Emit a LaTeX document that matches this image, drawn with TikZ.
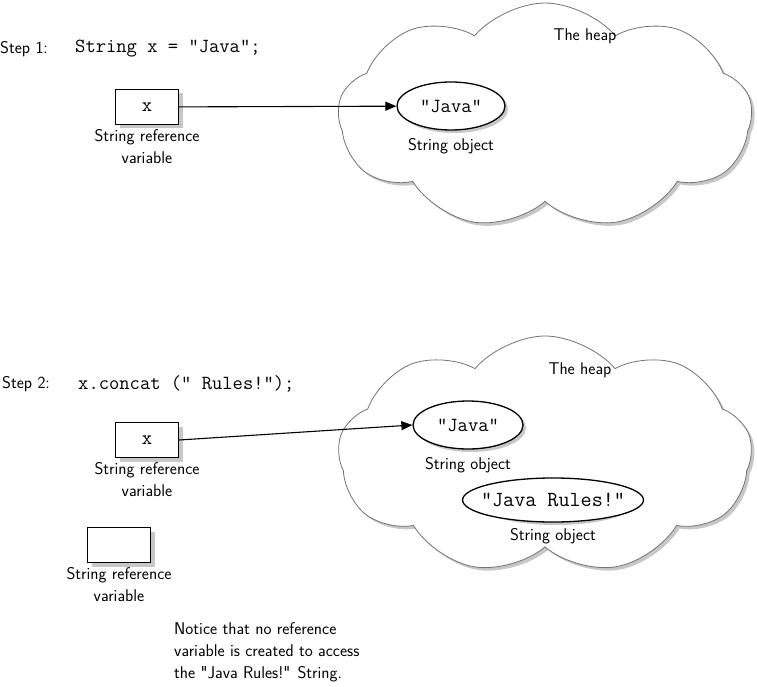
\documentclass[tikz,border=0pt]{standalone}
\usetikzlibrary{arrows.meta, positioning, shapes.geometric, shapes.symbols}

\begin{document}
\begin{tikzpicture}[x=1pt, y=-1pt,
	node distance=4pt and 10pt,
	txt/.style = {font=\fontsize{17}{22}\selectfont\sffamily, align=center, inner sep=0pt},
	stmt/.style = {font=\fontsize{20}{22}\selectfont\ttfamily, inner sep=0pt},
	shadowfill/.style = {draw=none, fill=black!22},
	refbox/.style = {draw, line width=1.2pt, fill=white, minimum width=63pt, minimum height=35pt,
		inner sep=0pt, font=\fontsize{20}{22}\selectfont\ttfamily},
	obj/.style = {ellipse, draw, line width=1.3pt, fill=white, inner sep=0pt, 
		font=\fontsize{20}{22}\selectfont\ttfamily},
	heap/.style = {cloud, cloud puffs=9, cloud puff arc=100, draw=black!55, line width=0.8pt, fill=white,
		minimum width=414pt, minimum height=226pt},
	ref/.style = {-{Triangle[length=11pt, width=9pt]}, line width=1.1pt}
	]
	\useasboundingbox (0,0) rectangle (757,687);
%
% the two heaps
	\node[heap, shadowfill] (heap1s) at (548,119) {};
	\node[heap] (heap1) at (545,116) {};
	\node[heap, minimum height=238pt, shadowfill] (heap2s) at (548,458) {};
	\node[heap, minimum height=238pt] (heap2) at (545,455) {};
%
% Step 1
	\node[txt] (heapT1) at (585,36) {The heap};
	\node[txt, anchor=west] (step1) at (0,49) {Step 1:};
	\node[stmt, anchor=west] (code1) at (75,49) {String x = "Java";};
	\node[refbox, shadowfill] (x1s) at (151,111) {};
	\node[refbox] (x1) at (147,107) {x};
	\node[txt, below=of x1] (x1L) {String reference\\variable};
	\node[obj, minimum width=108pt, minimum height=48pt, shadowfill] (java1s) at (454,109) {};
	\node[obj, minimum width=108pt, minimum height=48pt] (java1) at (451,106) {"Java"};
	\node[txt, below=8pt of java1] (java1L) {String object};
	\draw[ref] (x1) -- (java1);
%
% Step 2
	\node[txt] (heapT2) at (580,370) {The heap};
	\node[txt, anchor=west] (step2) at (2,384) {Step 2:};
	\node[stmt, anchor=west] (code2) at (78,384) {x.concat (" Rules!");};
	\node[refbox, shadowfill] (x2s) at (151,444) {};
	\node[refbox] (x2) at (147,440) {x};
	\node[txt, below=of x2] (x2L) {String reference\\variable};
	\node[refbox, shadowfill] (y2s) at (123,549) {};
	\node[refbox] (y2) at (119,545) {};
	\node[txt, below=of y2] (y2L) {String reference\\variable};
	\node[obj, minimum width=110pt, minimum height=48pt, shadowfill] (java2s) at (471,428) {};
	\node[obj, minimum width=110pt, minimum height=48pt] (java2) at (468,425) {"Java"};
	\node[txt, below=8pt of java2] (java2L) {String object};
	\node[obj, minimum width=157pt, minimum height=44pt, shadowfill] (ruless) at (556,503) {};
	\node[obj, minimum width=157pt, minimum height=44pt, inner xsep=-8pt,
		font=\fontsize{21.5}{22}\selectfont\ttfamily] (rules) at (553,500) {"Java Rules!"};
	\node[txt, below=6pt of rules] (rulesL) {String object};
	\draw[ref] (x2.east) -- (java2.west);
%
	\node[txt, align=left, anchor=north west] (note) at (174,622)
		{Notice that no reference\\variable is created to access\\the \textquotedbl Java Rules!\textquotedbl{} String.};
\end{tikzpicture}
\end{document}
